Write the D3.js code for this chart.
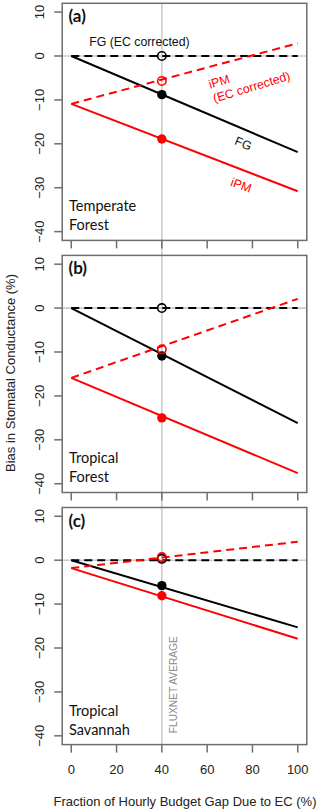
<!DOCTYPE html>
<html><head><meta charset="utf-8">
<script src="https://cdn.jsdelivr.net/npm/d3@7"></script>
<style>html,body{margin:0;padding:0;background:#fff;}svg{display:block;}</style>
</head><body>
<svg id="chart" width="320" height="810"></svg>
<script>
// ---- data ----
const panelTags = ["(a)", "(b)", "(c)"];
const categories = [["Temperate", "Forest"], ["Tropical", "Forest"], ["Tropical", "Savannah"]];
const xEnds = [0, 100];
const fgSolid = [[0, -21.9], [0, -26.2], [0, -15.3]];
const fgCorrected = [[0, 0], [0, 0], [0, 0]];
const ipmSolid = [[-10.9, -30.8], [-15.9, -37.6], [-1.8, -17.9]];
const ipmCorrected = [[-10.9, 2.9], [-15.9, 2.1], [-1.8, 4.2]];
const fluxnetX = 40;
const fgDot = [-8.8, -10.9, -5.8];
const fgOpen = [0, 0, 0.3];
const ipmDot = [-18.9, -25.0, -8.1];
const ipmOpen = [-5.7, -9.4, 0.7];
const xTicks = [0, 20, 40, 60, 80, 100];
const yTicks = [10, 0, -10, -20, -30, -40];

// ---- layout ----
const svg = d3.select("#chart");
const left = 62.2, right = 306.8;
const panelH = 237.1, firstTop = 3.3, pitch = 252.1;
const x = d3.scaleLinear().domain([-4, 104]).range([left, right]);
const frame = "#6e6e6e", refGray = "#cccccc";
const rFont = "'Liberation Sans', Arial, sans-serif";
const cFont = "Lato, 'Open Sans', sans-serif";
const fmt = d => d < 0 ? "\u2212" + Math.abs(d) : String(d);

// vertical fluxnet line across all panels
svg.append("line")
  .attr("x1", x(fluxnetX)).attr("x2", x(fluxnetX))
  .attr("y1", firstTop).attr("y2", firstTop + 2 * pitch + panelH)
  .attr("stroke", refGray).attr("stroke-width", 1.6);

const line = d3.line().x(d => x(d[0])).y(d => d[1]);

panelTags.forEach((tag, i) => {
  const top = firstTop + i * pitch;
  const y = d3.scaleLinear().domain([-42, 12]).range([top + panelH, top]);
  const g = svg.append("g");

  // zero reference line
  g.append("line").attr("x1", left).attr("x2", right)
    .attr("y1", y(0)).attr("y2", y(0))
    .attr("stroke", refGray).attr("stroke-width", 1.6);

  const pts = arr => xEnds.map((xv, k) => [xv, y(arr[k])]);

  g.append("path").attr("d", line(pts(fgCorrected[i]))).attr("fill", "none")
    .attr("stroke", "#000").attr("stroke-width", 2).attr("stroke-dasharray", "8,5");
  g.append("path").attr("d", line(pts(fgSolid[i]))).attr("fill", "none")
    .attr("stroke", "#000").attr("stroke-width", 2);
  g.append("path").attr("d", line(pts(ipmSolid[i]))).attr("fill", "none")
    .attr("stroke", "#ff0000").attr("stroke-width", 2);
  g.append("path").attr("d", line(pts(ipmCorrected[i]))).attr("fill", "none")
    .attr("stroke", "#ff0000").attr("stroke-width", 2).attr("stroke-dasharray", "8,5");

  // points
  g.append("circle").attr("cx", x(fluxnetX)).attr("cy", y(fgDot[i])).attr("r", 4.7).attr("fill", "#000");
  g.append("circle").attr("cx", x(fluxnetX)).attr("cy", y(ipmDot[i])).attr("r", 4.7).attr("fill", "#ff0000");
  g.append("circle").attr("cx", x(fluxnetX)).attr("cy", y(fgOpen[i])).attr("r", 4.2)
    .attr("fill", "none").attr("stroke", "#000").attr("stroke-width", 1.6);
  g.append("circle").attr("cx", x(fluxnetX)).attr("cy", y(ipmOpen[i])).attr("r", 4.2)
    .attr("fill", "none").attr("stroke", "#ff0000").attr("stroke-width", 1.6);

  // box
  g.append("rect").attr("x", left).attr("y", top).attr("width", right - left).attr("height", panelH)
    .attr("fill", "none").attr("stroke", frame).attr("stroke-width", 1.5);

  // y axis ticks + labels
  yTicks.forEach(t => {
    g.append("line").attr("x1", left - 8).attr("x2", left).attr("y1", y(t)).attr("y2", y(t))
      .attr("stroke", frame).attr("stroke-width", 1.5);
    g.append("text").attr("transform", `translate(43.5,${y(t)}) rotate(-90)`)
      .attr("text-anchor", "middle").attr("font-family", rFont).attr("font-size", 13)
      .attr("fill", "#222").text(fmt(t));
  });

  // x ticks
  xTicks.forEach(t => {
    g.append("line").attr("x1", x(t)).attr("x2", x(t)).attr("y1", top + panelH).attr("y2", top + panelH + 8)
      .attr("stroke", frame).attr("stroke-width", 1.5);
  });

  // panel tag
  g.append("text").attr("x", 68.5).attr("y", top + 19).attr("font-family", cFont)
    .attr("font-weight", "bold").attr("font-size", 17).attr("fill", "#111").text(tag);

  // category label
  categories[i].forEach((s, k) => {
    g.append("text").attr("x", 69).attr("y", top + 208 + k * 19).attr("font-family", cFont)
      .attr("font-size", 14.5).attr("fill", "#111").text(s);
  });

  if (i === 0) {
    g.append("text").attr("x", x(30.1)).attr("y", y(3.2)).attr("dy", "0.35em")
      .attr("text-anchor", "middle").attr("font-family", rFont).attr("font-size", 12.3)
      .attr("fill", "#111").text("FG (EC corrected)");
    const lab = g.append("text").attr("transform", `translate(${x(60.8)},${y(-6.5)}) rotate(-17)`)
      .attr("font-family", rFont).attr("font-size", 12.3).attr("fill", "#ff0000");
    lab.append("tspan").attr("x", 0).attr("dy", "0.35em").text("iPM");
    lab.append("tspan").attr("x", 0).attr("dy", "1.2em").text("(EC corrected)");
    g.append("text").attr("transform", `translate(${x(76)},${y(-19.9)}) rotate(23)`)
      .attr("text-anchor", "middle").attr("dy", "0.35em").attr("font-family", rFont)
      .attr("font-size", 12.3).attr("fill", "#111").text("FG");
    g.append("text").attr("transform", `translate(${x(75)},${y(-29.4)}) rotate(20)`)
      .attr("text-anchor", "middle").attr("dy", "0.35em").attr("font-family", rFont)
      .attr("font-size", 12.3).attr("fill", "#ff0000").text("iPM");
  }
  if (i === 2) {
    g.append("text").attr("transform", `translate(${x(fluxnetX) + 15},${y(-39.4)}) rotate(-90)`)
      .attr("font-family", rFont).attr("font-size", 10.2).attr("fill", "#8a8a8a")
      .text("FLUXNET AVERAGE");
  }
});

// bottom x labels
const bottom = firstTop + 2 * pitch + panelH;
xTicks.forEach(t => {
  svg.append("text").attr("x", x(t)).attr("y", bottom + 29.3).attr("text-anchor", "middle")
    .attr("font-family", rFont).attr("font-size", 13).attr("fill", "#222").text(t);
});
svg.append("text").attr("x", 185).attr("y", 805.7).attr("text-anchor", "middle")
  .attr("font-family", rFont).attr("font-size", 13).attr("fill", "#222")
  .text("Fraction of Hourly Budget Gap Due to EC (%)");
svg.append("text").attr("transform", "translate(14.5,373) rotate(-90)").attr("text-anchor", "middle")
  .attr("font-family", rFont).attr("font-size", 13).attr("fill", "#222")
  .text("Bias in Stomatal Conductance (%)");
</script>
</body></html>
